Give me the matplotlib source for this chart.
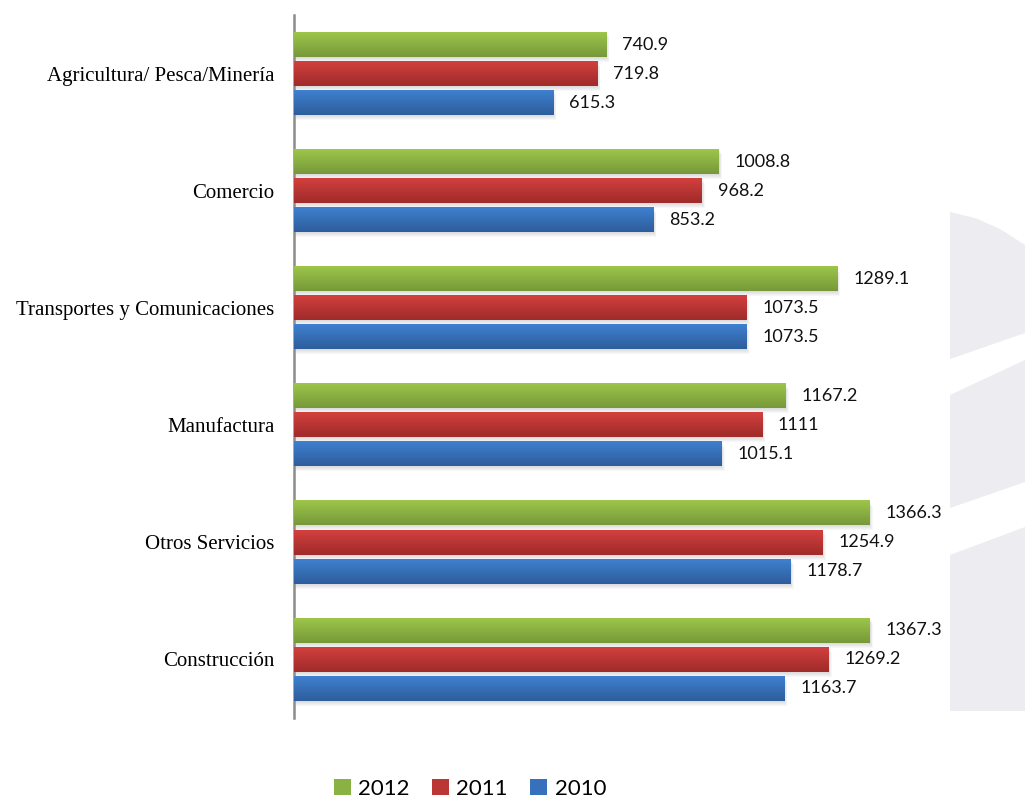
import numpy as np
import matplotlib.pyplot as plt
from matplotlib.colors import LinearSegmentedColormap
from matplotlib.patches import Polygon, Rectangle

categories = [
    "Agricultura/ Pesca/Minería",
    "Comercio",
    "Transportes y Comunicaciones",
    "Manufactura",
    "Otros Servicios",
    "Construcción",
]
years = ["2012", "2011", "2010"]
v2012 = [740.9, 1008.8, 1289.1, 1167.2, 1366.3, 1367.3]
v2011 = [719.8, 968.2, 1073.5, 1111, 1254.9, 1269.2]
v2010 = [615.3, 853.2, 1073.5, 1015.1, 1178.7, 1163.7]
value_labels = [
    ["740.9", "1008.8", "1289.1", "1167.2", "1366.3", "1367.3"],
    ["719.8", "968.2", "1073.5", "1111", "1254.9", "1269.2"],
    ["615.3", "853.2", "1073.5", "1015.1", "1178.7", "1163.7"],
]

# (top, bottom) gradient colours per series
shades = [("#9dc64a", "#77983a"), ("#d2403e", "#9f2b2a"), ("#3f80d0", "#2e5d9b")]

W, H = 1025, 798
fig = plt.figure(figsize=(W / 100, H / 100), dpi=100)

# faint logo shape on the right edge, in pixel coordinates
def px(points):
    return [(x / W, 1 - y / H) for x, y in points]

logo_bands = [
    [(950, 212), (975, 218), (1000, 229), (1025, 245), (1025, 333), (950, 359)],
    [(950, 395), (1025, 360), (1025, 482), (950, 508)],
    [(950, 555), (1025, 527), (1025, 711), (950, 711)],
]
for band in logo_bands:
    fig.patches.append(Polygon(px(band), closed=True, transform=fig.transFigure,
                               facecolor="#ececf1", edgecolor="none", zorder=0))

ax = fig.add_axes([294 / W, 1 - 718 / H, (968 - 294) / W, (718 - 15) / H])
ax.set_facecolor("none")

n = len(categories)
centers = np.arange(n)[::-1].astype(float)
h = 0.21
step = 0.248
xmax = 1600
py = 1 / 117.2            # one pixel in y data units
pxu = xmax / (968 - 294)  # one pixel in x data units

for k, (vals, (top, bot)) in enumerate(zip([v2012, v2011, v2010], shades)):
    ys = centers + step * (1 - k)
    bars = ax.barh(ys, vals, height=h, color="none", edgecolor="none", zorder=3)
    cmap = LinearSegmentedColormap.from_list(f"g{k}", [top, bot])
    grad = np.linspace(0, 1, 64).reshape(-1, 1)
    for bar, y, v, lab in zip(bars, ys, vals, value_labels[k]):
        # soft drop shadow
        for s in range(1, 6):
            ax.add_patch(Rectangle((0, y - h / 2 - s * py), v + s * pxu * 0.6, h,
                                   facecolor="#808080", alpha=0.06, edgecolor="none", zorder=2))
        ax.imshow(grad, cmap=cmap, extent=(0, v, y - h / 2, y + h / 2), origin="upper",
                  aspect="auto", interpolation="bicubic", zorder=3, clip_path=bar)
        ax.text(v + 16 * pxu, y, lab, va="center", ha="left", fontsize=13,
                family="Lato", color="#111111", zorder=4)

ax.set_xlim(0, xmax)
ax.set_ylim(-0.5, n - 0.5)
ax.set_yticks(centers)
ax.set_yticklabels(categories, family="Liberation Serif", fontsize=15)
ax.tick_params(axis="y", length=0, pad=14)
ax.set_xticks([])
for side in ["top", "right", "bottom"]:
    ax.spines[side].set_visible(False)
ax.spines["left"].set_color("#8c8c8c")
ax.spines["left"].set_linewidth(1.8)

handles = [Rectangle((0, 0), 1, 1, facecolor=c[0], edgecolor="none") for c in
           [("#8ab143",), ("#bb3736",), ("#3771bb",)]]
fig.legend(handles, years, loc="center", bbox_to_anchor=(470 / W, 1 - 789 / H), ncol=3,
           frameon=False, prop={"family": "Lato", "size": 16}, handlelength=0.75,
           handleheight=0.75, handletextpad=0.35, columnspacing=1.0)

fig.savefig("out.png", dpi=100)
